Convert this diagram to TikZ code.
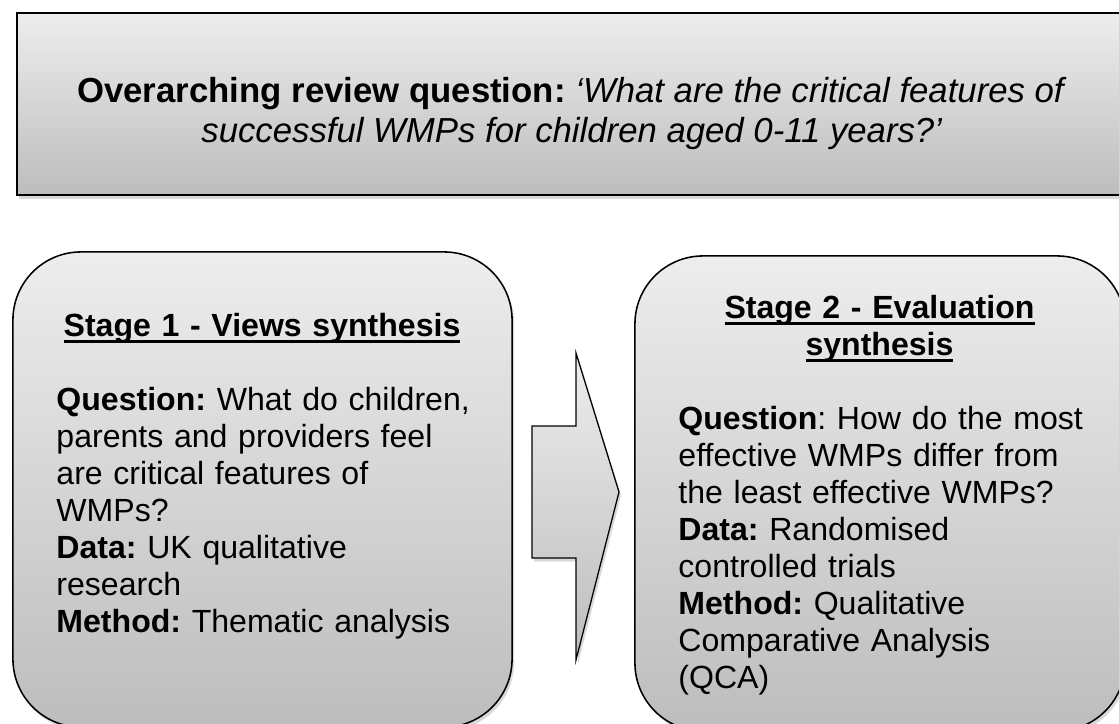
\documentclass[tikz,border=0pt]{standalone}
\usepackage{fontspec}
\setmainfont{Liberation Sans}
\usepackage{tikz}
\usetikzlibrary{positioning}
\usetikzlibrary{shadows}
\frenchspacing
\hyphenpenalty=10000

% underline that sits just under the baseline
\newcommand{\headline}[1]{\setbox0=\hbox{#1}\rlap{\rule[-0.2em]{\wd0}{0.085em}}\box0}

\begin{document}
\begin{tikzpicture}[x=0.025cm, y=-0.025cm, node distance=0cm,
    greybox/.style={draw, line width=1.1pt, top color=gray!14, bottom color=gray!52,
        drop shadow={shadow xshift=1.5pt, shadow yshift=-2.5pt, opacity=0.3}},
    stagebox/.style={greybox, rounded corners=1.7cm, minimum height=11.875cm},
    bodytext/.style={inner sep=0pt, align=left, text width=12.5cm, font=\fontsize{22.8pt}{26.3pt}\selectfont}]

    \useasboundingbox (0,0) rectangle (1119,724);
    \clip (0,0) rectangle (1119,724);

    % Review question
    \node (topbox) [greybox, minimum width=27.75cm, minimum height=4.55cm] at (572,104) {};
    \node (title) [inner sep=0pt, align=center, font=\fontsize{24.7pt}{28.4pt}\selectfont, below=1.63cm of topbox.north] {\textbf{Overarching review question:} \textit{‘What are the critical features of}\\ \textit{successful WMPs for children aged 0-11 years?’}};

    % Stage 1
    \node (s1box) [stagebox, minimum width=12.475cm] at (262.5,489.5) {};
    \node (s1text) [bodytext, below right=1.55cm and 1.1cm of s1box.north west] {\makebox[10.275cm]{\bfseries\headline{Stage 1 - Views synthesis}}\\[\baselineskip]
        \textbf{Question:} What do children,\\ parents and providers feel\\ are critical features of\\ WMPs?\\ \textbf{Data:} UK qualitative\\ research\\ \textbf{Method:} Thematic analysis};

    % Stage 2
    \node (s2box) [stagebox, minimum width=12.25cm] at (880,493.5) {};
    \node (s2text) [bodytext, below right=1.0cm and 1.1cm of s2box.north west] {\makebox[10.05cm]{\bfseries\headline{Stage 2 - Evaluation}}\\ \makebox[10.05cm]{\bfseries\headline{synthesis}}\\[\baselineskip]
        \textbf{Question}: How do the most\\ effective WMPs differ from\\ the least effective WMPs?\\ \textbf{Data:} Randomised\\ controlled trials\\ \textbf{Method:} Qualitative\\ Comparative Analysis\\ (QCA)};

    % Arrow
    \draw[greybox, line width=0.9pt] (532,426) -- (576,426) -- (576,353) -- (619,492) -- (576,660) -- (576,558) -- (532,558) -- cycle;

\end{tikzpicture}
\end{document}
